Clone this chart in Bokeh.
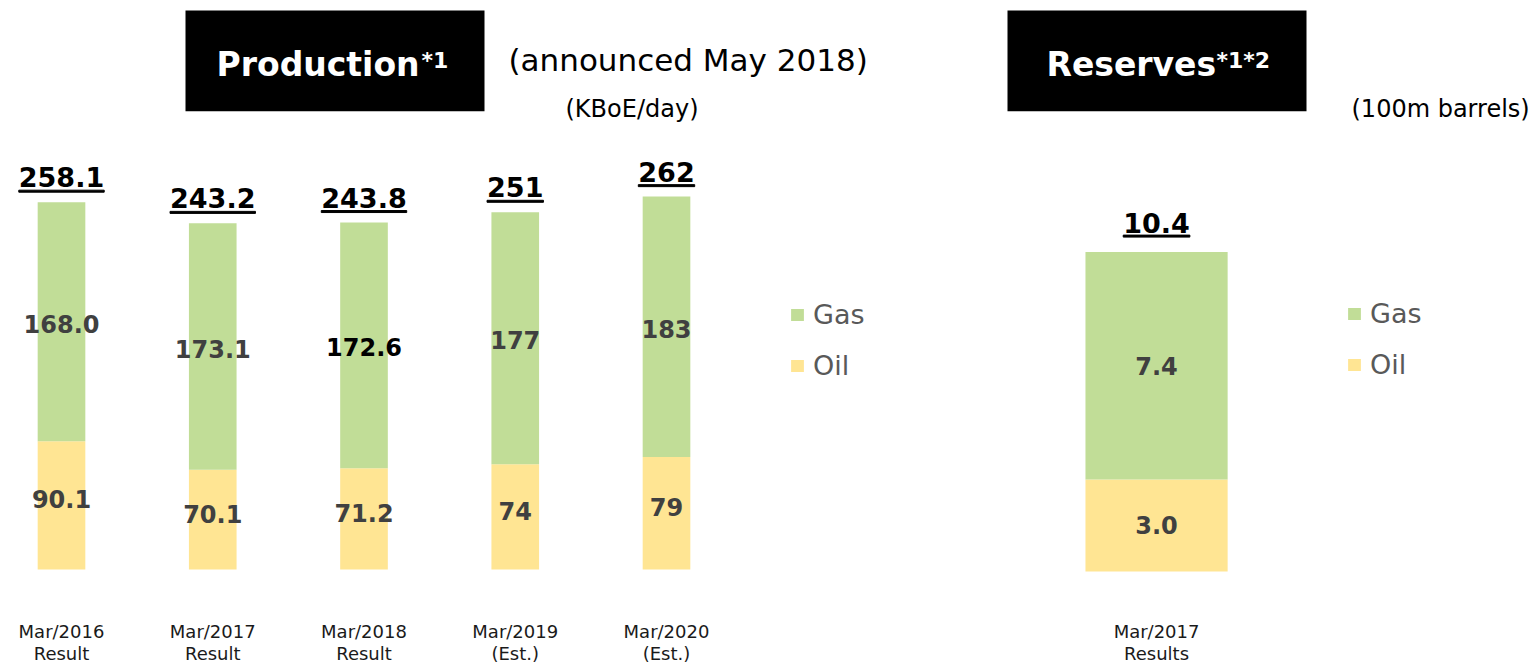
from bokeh.plotting import figure
from bokeh.models import (Range1d, ColumnDataSource, Legend, LegendItem, Label,
                          BoxAnnotation, FixedTicker)
from bokeh.embed import file_html
from bokeh.resources import INLINE
from bokeh.core.properties import value

# ---------------- data ----------------
prod_categories = ["Mar/2016\nResult", "Mar/2017\nResult", "Mar/2018\nResult",
                   "Mar/2019\n(Est.)", "Mar/2020\n(Est.)"]
prod_oil = [90.1, 70.1, 71.2, 74, 79]
prod_gas = [168.0, 173.1, 172.6, 177, 183]
prod_total = [258.1, 243.2, 243.8, 251, 262]
prod_oil_labels = ["90.1", "70.1", "71.2", "74", "79"]
prod_gas_labels = ["168.0", "173.1", "172.6", "177", "183"]
prod_total_labels = ["258.1", "243.2", "243.8", "251", "262"]

res_categories = ["Mar/2017\nResults"]
res_oil = [3.0]
res_gas = [7.4]
res_total = [10.4]
res_oil_labels = ["3.0"]
res_gas_labels = ["7.4"]
res_total_labels = ["10.4"]

series_names = ["Gas", "Oil"]

# ---------------- styles / layout ----------------
GREEN = "#C1DD97"
YELLOW = "#FFE593"
LABEL_GREY = "#404040"
FONT = "DejaVu Sans"

W, H = 1538, 666
BOTTOM = 68                      # axis area under the frame
FRAME_H = H - BOTTOM
PX_PER_CAT = 151.25
X0 = -61 / PX_PER_CAT            # data x at left canvas edge
X1 = X0 + W / PX_PER_CAT
PROD_PPU = 1.4258                # px per KBoE/day
RES_PPU = 30.77                  # px per 100m barrels
PROD_BASE = FRAME_H - 570        # px of baseline above frame bottom
RES_BASE = FRAME_H - 572
RES_X = 7.24                     # slot of the reserves bar
prod_y = Range1d(-PROD_BASE / PROD_PPU, (FRAME_H - PROD_BASE) / PROD_PPU)
res_y = Range1d(-RES_BASE / RES_PPU, (FRAME_H - RES_BASE) / RES_PPU)


def xd(px):  # canvas px -> data x
    return X0 + px / PX_PER_CAT


def yd(py):  # canvas px -> data y (production scale)
    return prod_y.end - py / PROD_PPU


def bold_width(s, size):
    w = {".": 0.38}
    return sum(w.get(c, 0.696) for c in s) * size


p = figure(width=W, height=H, x_range=Range1d(X0, X1), y_range=prod_y,
           output_backend="svg", toolbar_location=None, y_axis_location=None,
           min_border=0, min_border_bottom=BOTTOM)
p.extra_y_ranges = {"res": res_y}
p.outline_line_color = None
p.xgrid.visible = False
p.ygrid.visible = False
p.background_fill_color = "white"
p.border_fill_color = "white"

# axis with category labels
px_idx = list(range(len(prod_categories)))
ticks = px_idx + [RES_X]
p.xaxis.ticker = FixedTicker(ticks=ticks)
overrides = {i: c for i, c in zip(px_idx, prod_categories)}
overrides[RES_X] = res_categories[0]
p.xaxis.major_label_overrides = overrides
p.xaxis.axis_line_color = None
p.xaxis.major_tick_line_color = None
p.xaxis.minor_tick_line_color = None
p.xaxis.major_tick_out = 0
p.xaxis.major_tick_in = 0
p.xaxis.major_label_standoff = 23
p.xaxis.major_label_text_font = FONT
p.xaxis.major_label_text_font_size = "18px"
p.xaxis.major_label_text_color = "#1a1a1a"
p.xaxis.major_label_text_line_height = 1.05

# ---------------- production bars ----------------
psrc = ColumnDataSource(dict(
    x=px_idx, oil=prod_oil, gas=prod_gas, total=prod_total,
    oil_mid=[o / 2 for o in prod_oil],
    gas_mid=[o + g / 2 for o, g in zip(prod_oil, prod_gas)],
    oil_lab=prod_oil_labels, gas_lab=prod_gas_labels, tot_lab=prod_total_labels,
    gas_col=[LABEL_GREY, LABEL_GREY, "#000000", LABEL_GREY, LABEL_GREY],
    ul_y=[t + 11 / PROD_PPU for t in prod_total],
    ul_w=[bold_width(s, 27) / PX_PER_CAT for s in prod_total_labels],
))
prod_r = p.vbar_stack(["oil", "gas"], x="x", width=0.315, color=[YELLOW, GREEN],
                      line_color=None, source=psrc)
p.text(x="x", y="gas_mid", text="gas_lab", source=psrc, text_align="center",
       text_baseline="middle", text_font=value(FONT), text_font_style="bold",
       text_font_size="24px", text_color="gas_col", y_offset=2)
p.text(x="x", y="oil_mid", text="oil_lab", source=psrc, text_align="center",
       text_baseline="middle", text_font=value(FONT), text_font_style="bold",
       text_font_size="24px", text_color=LABEL_GREY, y_offset=-6)
p.text(x="x", y="total", text="tot_lab", source=psrc, text_align="center",
       text_baseline="alphabetic", text_font=value(FONT), text_font_style="bold",
       text_font_size="27px", text_color="black", y_offset=-25)
p.rect(x="x", y="ul_y", width="ul_w", height=2, height_units="screen",
       color="black", source=psrc)

# ---------------- reserves bar ----------------
rsrc = ColumnDataSource(dict(
    x=[RES_X], oil=res_oil, gas=res_gas, total=res_total,
    oil_mid=[o / 2 for o in res_oil],
    gas_mid=[o + g / 2 for o, g in zip(res_oil, res_gas)],
    oil_lab=res_oil_labels, gas_lab=res_gas_labels, tot_lab=res_total_labels,
    ul_y=[t + 16 / RES_PPU for t in res_total],
    ul_w=[bold_width(s, 27) / PX_PER_CAT for s in res_total_labels],
))
res_r = p.vbar_stack(["oil", "gas"], x="x", width=0.94, color=[YELLOW, GREEN],
                     line_color=None, source=rsrc, y_range_name="res")
p.text(x="x", y="gas_mid", text="gas_lab", source=rsrc, text_align="center",
       text_baseline="middle", text_font=value(FONT), text_font_style="bold",
       text_font_size="24px", text_color=LABEL_GREY, y_range_name="res")
p.text(x="x", y="oil_mid", text="oil_lab", source=rsrc, text_align="center",
       text_baseline="middle", text_font=value(FONT), text_font_style="bold",
       text_font_size="24px", text_color=LABEL_GREY, y_range_name="res")
p.text(x="x", y="total", text="tot_lab", source=rsrc, text_align="center",
       text_baseline="alphabetic", text_font=value(FONT), text_font_style="bold",
       text_font_size="27px", text_color="black", y_offset=-29, y_range_name="res")
p.rect(x="x", y="ul_y", width="ul_w", height=2, height_units="screen",
       color="black", source=rsrc, y_range_name="res")

# ---------------- legends ----------------
def make_legend(renderers, loc):
    oil_r, gas_r = renderers
    lg = Legend(items=[LegendItem(label=series_names[0], renderers=[gas_r]),
                       LegendItem(label=series_names[1], renderers=[oil_r])],
                location=loc, orientation="vertical",
                glyph_width=16, glyph_height=15, label_standoff=8,
                label_text_font=FONT, label_text_font_size="27px",
                label_text_color="#595959", spacing=20, padding=0, margin=0,
                border_line_color=None, background_fill_alpha=0)
    return lg

p.add_layout(make_legend(prod_r, (789, FRAME_H - 382)))
p.add_layout(make_legend(res_r, (1346, FRAME_H - 381)))

# ---------------- titles ----------------
for left, right in [(185, 484), (1007, 1306)]:
    p.add_layout(BoxAnnotation(left=xd(left), right=xd(right), top=yd(10),
                               bottom=yd(111), fill_color="black", fill_alpha=1,
                               line_color=None))

def lab(text, x, y, size, bold=False, color="black", baseline="alphabetic"):
    p.add_layout(Label(x=xd(x), y=yd(y), text=text, text_font=FONT,
                       text_font_size=size, text_color=color,
                       text_font_style="bold" if bold else "normal",
                       text_align="left", text_baseline=baseline))

lab("Production", 216, 64, "33px", True, "white")
lab("*1", 421, 48, "22px", True, "white", "top")
lab("Reserves", 1046, 64, "33px", True, "white")
lab("*1*2", 1216, 48, "22px", True, "white", "top")
lab("(announced May 2018)", 508, 60, "31px", baseline="middle")
lab("(KBoE/day)", 565, 109, "24px", baseline="middle")
lab("(100m barrels)", 1351, 109, "24px", baseline="middle")

open("out.html", "w").write(file_html(p, INLINE))
